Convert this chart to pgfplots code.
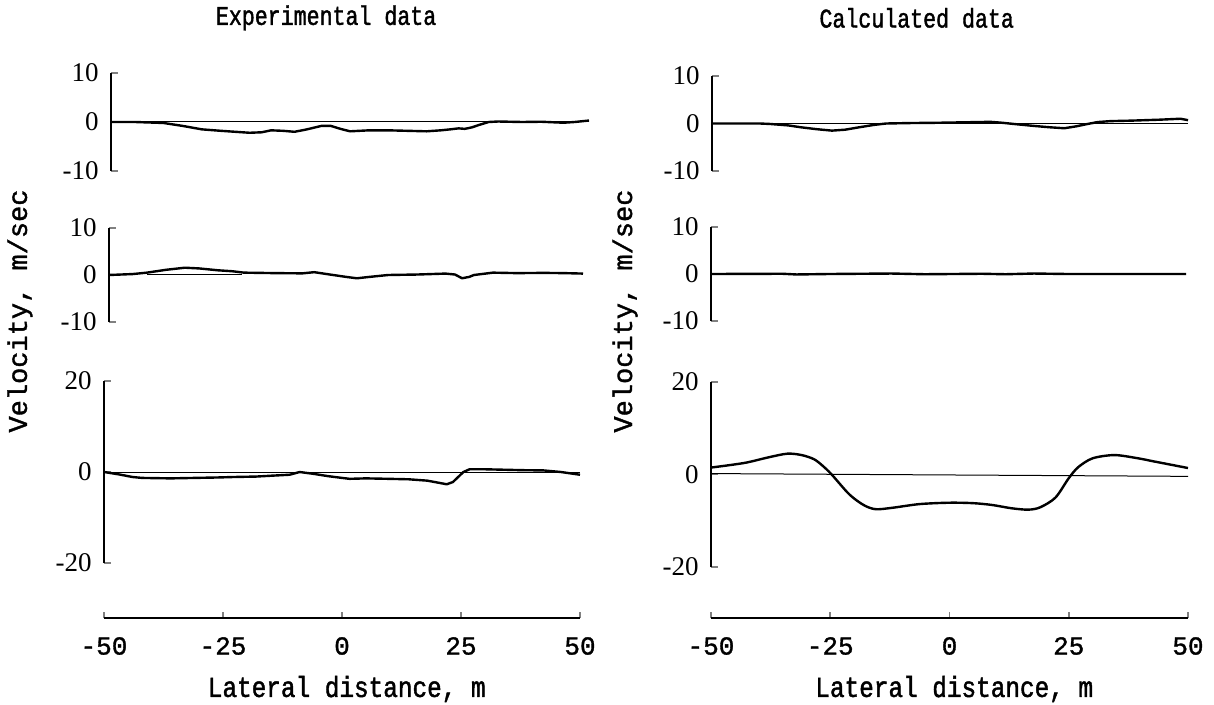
\documentclass[border=0pt]{standalone}
\usepackage{pgfplots}
\pgfplotsset{compat=1.18}
\usepackage{fontspec}
\setmainfont{Liberation Serif}
\newfontfamily\mono{Liberation Mono}[UprightFeatures={FakeBold=1.3}]
\newfontfamily\monoc{Liberation Mono}[FakeStretch=0.84, UprightFeatures={FakeBold=1.5}]
\newfontfamily\monot{Liberation Mono}[FakeStretch=0.8, UprightFeatures={FakeBold=1.5}]
\pgfplotsset{
  panel/.style={scale only axis, xmin=-50, xmax=50, axis x line=none, axis y line*=left,
    tick align=inside, major tick length=3.5pt,
    axis line style={line width=0.9pt}, ytick style={line width=0.9pt},
    yticklabel style={font=\fontsize{13.5}{14}\selectfont, anchor=east, inner sep=0pt, xshift=-6pt},
    clip=false, anchor=south west},
  p10/.style={ymin=-10, ymax=10, ytick={-10,0,10}, yticklabels={-10,0,10}},
  p20/.style={ymin=-20, ymax=20, ytick={-20,0,20}, yticklabels={-20,0,20}},
  curve/.style={black, line width=1.2pt, line join=round},
  zero/.style={black, line width=0.5pt},
  xax/.style={scale only axis, height=10pt, xmin=-50, xmax=50, ymin=0, ymax=1,
    axis y line=none, axis x line*=bottom, axis line style={line width=0.9pt},
    xtick={-50,-25,0,25,50}, xticklabels={-50,-25,0,25,50},
    tick align=inside, major tick length=3pt, xtick style={line width=0.9pt},
    xticklabel style={font=\mono\fontsize{13}{14}\selectfont, anchor=center, yshift=-14pt},
    xlabel={Lateral distance, m},
    xlabel style={font=\monoc\fontsize{14.5}{16}\selectfont, at={(axis description cs:0.51,0)}, anchor=center, yshift=-35.5pt},
    anchor=south west},
  ttl/.style={title style={font=\monot\fontsize{13.5}{15}\selectfont, anchor=center}},
}
\begin{document}
\begin{tikzpicture}
\useasboundingbox (0pt,0pt) rectangle (607pt,-352.5pt);
% ---------- left column ----------
\begin{axis}[panel, p10, ttl, width=239pt, height=49pt, at={(55.5pt,-85.5pt)},
  title={Experimental data}, title style={at={(axis description cs:0.45,1.44)}}]
\addplot[zero] coordinates {(-50,0)(50,0)};
\addplot[curve] coordinates {(-50,0) (-45,0) (-42,-0.1) (-39,-0.2) (-35,-0.8) (-31,-1.5) (-27,-1.8) (-24,-2.0) (-21,-2.2) (-18.5,-2.1) (-16.5,-1.7) (-14,-1.8) (-11.6,-2.0) (-9,-1.5) (-6,-0.8) (-4,-0.8) (-2,-1.4) (0,-1.9) (4,-1.7) (8,-1.7) (12,-1.8) (16,-1.9) (19,-1.7) (21,-1.5) (22.7,-1.3) (24,-1.4) (25.5,-1.1) (27,-0.6) (29,0.0) (31,0.1) (36,0) (40,0.05) (44.7,-0.15) (47,0) (50,0.3)};
\end{axis}
\begin{axis}[panel, p10, width=237pt, height=47pt, at={(54.5pt,-161pt)},
  ylabel={Velocity, m/sec},
  ylabel style={font=\mono\fontsize{13.5}{15}\selectfont, at={(axis description cs:-0.188,0.117)}, anchor=center}]
\addplot[zero] coordinates {(-42,0)(-22,0)};
\addplot[curve] coordinates {(-50,0) (-45,0.2) (-42,0.5) (-38,1.1) (-34,1.55) (-31,1.4) (-27,1.0) (-24,0.8) (-21.5,0.5) (-15,0.4) (-9.2,0.35) (-6.7,0.6) (-3.4,0.1) (0,-0.4) (2.3,-0.7) (5,-0.4) (8.9,0) (15,0.1) (21,0.3) (23,0.1) (24.5,-0.7) (26,-0.4) (27,0) (31,0.5) (36,0.4) (41.8,0.45) (46,0.4) (50,0.3)};
\end{axis}
\begin{axis}[panel, p20, width=238pt, height=91pt, at={(52pt,-281.5pt)}]
\addplot[zero] coordinates {(-50,0)(50,0)};
\addplot[curve] coordinates {(-50,0) (-47,-0.5) (-44,-1.1) (-42,-1.3) (-36,-1.4) (-31,-1.3) (-26,-1.2) (-22.8,-1.1) (-18,-1.0) (-14.6,-0.8) (-11,-0.6) (-8.9,0) (-6,-0.4) (-3,-0.9) (0,-1.3) (1.6,-1.5) (5,-1.4) (9.8,-1.5) (14,-1.6) (17.9,-1.9) (20.5,-2.4) (22,-2.7) (23.3,-2.2) (24.5,-1.0) (25.5,0) (26.8,0.6) (30,0.6) (34,0.5) (38,0.4) (42.3,0.35) (46,0) (50,-0.6)};
\end{axis}
\begin{axis}[xax, width=238pt, at={(52pt,-309pt)}]
\end{axis}
% ---------- right column ----------
\begin{axis}[panel, p10, ttl, width=238pt, height=47.5pt, at={(356pt,-85.5pt)},
  title={Calculated data}, title style={at={(axis description cs:0.43,1.485)}}]
\addplot[zero] coordinates {(-50,0)(50,0)};
\addplot[curve] coordinates {(-50,0) (-45,0) (-40,0) (-37.8,-0.1) (-34,-0.4) (-31.3,-0.8) (-28,-1.2) (-24.8,-1.5) (-22,-1.3) (-19.1,-0.8) (-16,-0.3) (-13.4,0) (-8,0.1) (-2.8,0.15) (3,0.25) (8.5,0.35) (11,0.15) (13.4,-0.1) (17.5,-0.5) (21,-0.8) (24,-1.0) (26.5,-0.6) (28.9,-0.1) (31,0.3) (33.7,0.5) (38,0.6) (44,0.8) (48.4,1.0) (50,0.7)};
\end{axis}
\begin{axis}[panel, p10, width=237.5pt, height=47pt, at={(355.5pt,-160.5pt)},
  ylabel={Velocity, m/sec},
  ylabel style={font=\mono\fontsize{13.5}{15}\selectfont, at={(axis description cs:-0.181,0.106)}, anchor=center}]
\addplot[curve] coordinates {(-50,0) (-35,0.05) (-32,-0.1) (-25,0) (-12,0.1) (-5,-0.05) (7,0.05) (12,-0.05) (18,0.1) (25,0) (40,0) (50,0)};
\end{axis}
\begin{axis}[panel, p20, width=238.5pt, height=92.5pt, at={(355.5pt,-283.5pt)}]
\addplot[zero] coordinates {(-50,0.2)(50,-0.4)};
\addplot[curve, smooth, tension=0.5] coordinates {(-50,1.5) (-43,2.5) (-38,3.7) (-34,4.5) (-31,4.2) (-28.4,3.3) (-26.5,1.8) (-24.7,0) (-21,-4.3) (-18,-6.6) (-15.5,-7.5) (-12,-7.2) (-6.3,-6.4) (0,-6.1) (5,-6.2) (9,-6.6) (13,-7.3) (16.5,-7.6) (19,-7.1) (22.2,-5.0) (25,-0.8) (27,1.6) (30,3.5) (34.5,4.2) (39,3.6) (43,2.8) (47,2.0) (50,1.4)};
\end{axis}
\begin{axis}[xax, width=238.5pt, at={(355.5pt,-309pt)}]
\end{axis}
\end{tikzpicture}
\end{document}
